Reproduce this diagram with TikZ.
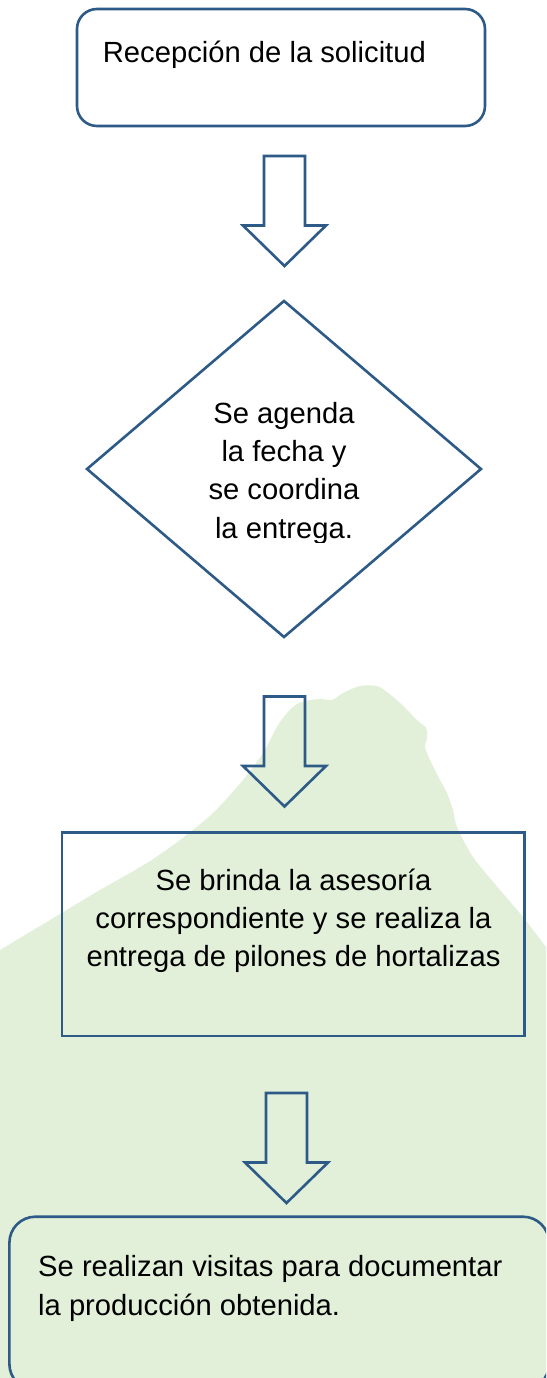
\documentclass[tikz,border=0pt]{standalone}
\usepackage{fontspec}
\setmainfont{Liberation Sans}
\definecolor{lineblue}{HTML}{2D5A87}
\definecolor{bggreen}{HTML}{E2F0D9}
\tikzset{
  box/.style={draw=lineblue, line width=2.6pt},
  txt/.style={inner sep=0pt, font=\fontsize{29.2}{38.3}\selectfont, text=black},
  blockdown/.pic={
    \draw[box] (-20.5,0) -- (20.5,0) -- (20.5,69.5) -- (41.5,69.5) -- (0,110)
      -- (-41.5,69.5) -- (-20.5,69.5) -- cycle;
  }
}
\begin{document}
\begin{tikzpicture}[x=1pt,y=-1pt]
\useasboundingbox (0,0) rectangle (546,1378);
\clip (0,0) rectangle (546,1378);
\fill[white] (0,0) rectangle (546,1378);
% green background blob
\fill[bggreen] plot[smooth, tension=0.5] coordinates {
  (0,950) (50,920) (100,890) (147,863) (180,840) (213,813) (243,780) (263,753)
  (280,722) (297,704) (318,699) (332,700) (343,693) (360,686) (377,686)
  (387,692) (400,703) (417,720) (426,728) (427,738) (425,747) (430,760)
  (440,780) (447,793) (453,810) (457,827) (473,857) (500,890) (523,917)
  (546,947)} -- (546,1378) -- (0,1378) -- cycle;
% box 1
\draw[box, rounded corners=20pt] (77,9) rectangle (485,126);
\node[txt, anchor=base west] (t1) at (102.7,63) {Recepción de la solicitud};
% arrow 1
\pic (a1) at (284.5,156) {blockdown};
% diamond
\coordinate (dN) at (284,301);
\coordinate (dE) at (481,469);
\coordinate (dS) at (284,637);
\coordinate (dW) at (87,469);
\draw[box] (dN) -- (dE) -- (dS) -- (dW) -- cycle;
\node[txt, anchor=base] (d1) at (284,423.3) {Se agenda};
\node[txt, anchor=base] (d2) at (284,461.6) {la fecha y};
\node[txt, anchor=base] (d3) at (284,499.9) {se coordina};
\begin{scope}
  \clip (150,505) rectangle (420,542.3);
  \node[txt, anchor=base] (d4) at (284,538.2) {la entrega.};
\end{scope}
% arrow 2
\pic (a2) at (284.5,696.5) {blockdown};
% box 3
\draw[box] (62,832.5) rectangle (524.5,1036);
\node[txt, anchor=base] (b1) at (293.5,890) {Se brinda la asesoría};
\node[txt, anchor=base] (b2) at (293.5,928.3) {correspondiente y se realiza la};
\node[txt, anchor=base] (b3) at (293.5,966.6) {entrega de pilones de hortalizas};
% arrow 3
\pic (a3) at (286.5,1093) {blockdown};
% box 4
\draw[box, rounded corners=26pt] (9.4,1216.7) rectangle (549,1390);
\node[txt, anchor=base west] (e1) at (38,1276.7) {Se realizan visitas para documentar};
\node[txt, anchor=base west] (e2) at (38,1315) {la producción obtenida.};
\end{tikzpicture}
\end{document}
